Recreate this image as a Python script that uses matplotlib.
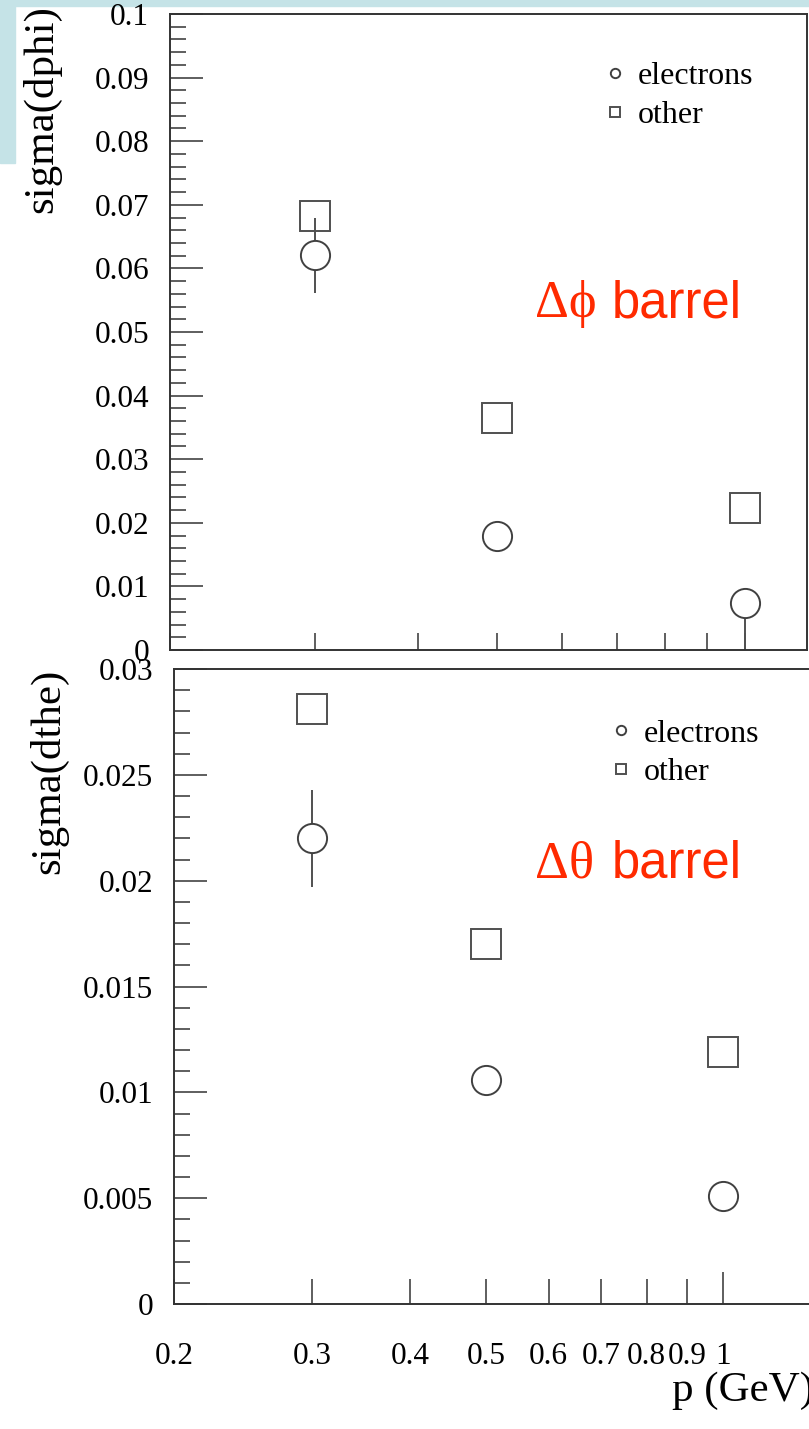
"""
Angular resolution of barrel tracks vs momentum: sigma(dphi) and sigma(dthe)
for electrons and other particles, two stacked ROOT-style panels.
"""

import matplotlib
matplotlib.use("Agg")
import matplotlib.pyplot as plt
from matplotlib.patches import Rectangle
from matplotlib.ticker import FixedLocator, FixedFormatter, MultipleLocator, FuncFormatter, NullFormatter

plt.rcParams["font.family"] = ["Liberation Serif", "DejaVu Serif"]

# ── data ───────────────────────────────────────────────────────
P_GEV = [0.3, 0.5, 1.0]

ELEC_DPHI        = [0.0621, 0.0179, 0.0074]
ELEC_DPHI_ERR_LO = [0.0059, 0.0, 0.0080]
ELEC_DPHI_ERR_HI = [0.0059, 0.0, 0.0020]
OTHER_DPHI       = [0.0682, 0.0365, 0.0223]

ELEC_DTHE        = [0.0220, 0.0106, 0.0051]
ELEC_DTHE_ERR_LO = [0.0023, 0.0, 0.0]
ELEC_DTHE_ERR_HI = [0.0023, 0.0, 0.0]
OTHER_DTHE       = [0.0281, 0.0170, 0.0119]

XTICK_MINOR = [0.2, 0.3, 0.4, 0.5, 0.6, 0.7, 0.8, 0.9]
XTICK_MAJOR = [1.0]
XLABELS_MINOR = ["0.2", "0.3", "0.4", "0.5", "0.6", "0.7", "0.8", "0.9"]
XLABELS_MAJOR = ["1"]

# ── style ──────────────────────────────────────────────────────
W, H = 809, 1429
INK = "#333333"
RED = "#ff2a00"
SLIDE_BLUE = "#c5e3e7"


def px_box(left, top, right, bottom):
    """pixel box (origin top-left) -> figure-fraction rect"""
    return [left / W, 1 - bottom / H, (right - left) / W, (bottom - top) / H]


def style_axes(ax, ymax, ymajor, yminor, ytick_len, xtick_len):
    ax.set_xscale("log")
    ax.set_ylim(0, ymax)
    ax.yaxis.set_major_locator(MultipleLocator(ymajor))
    ax.yaxis.set_minor_locator(MultipleLocator(yminor))
    ax.yaxis.set_major_formatter(FuncFormatter(lambda v, _: f"{v:g}"))
    ax.xaxis.set_major_locator(FixedLocator(XTICK_MAJOR))
    ax.xaxis.set_minor_locator(FixedLocator(XTICK_MINOR))
    ax.tick_params(axis="both", which="both", direction="in", color=INK,
                   width=1.1, top=False, right=False, labelsize=22.5)
    ax.tick_params(axis="y", which="major", length=ytick_len[0], pad=15)
    ax.tick_params(axis="y", which="minor", length=ytick_len[1])
    ax.tick_params(axis="x", which="major", length=xtick_len[0], pad=27)
    ax.tick_params(axis="x", which="minor", length=xtick_len[1], pad=27)
    for sp in ax.spines.values():
        sp.set_color(INK)
        sp.set_linewidth(1.4)


def draw_series(ax, elec, err_lo, err_hi, other):
    ax.errorbar(P_GEV, elec, yerr=[err_lo, err_hi], fmt="none",
                ecolor="#505050", elinewidth=1.4, capsize=0, zorder=2)
    ax.plot(P_GEV, other, ls="none", marker="s", ms=21, mfc="none",
            mec="#505050", mew=1.4, label="other", zorder=3)
    ax.plot(P_GEV, elec, ls="none", marker="o", ms=21, mfc="white",
            mec="#404040", mew=1.4, label="electrons", zorder=4)
    h, l = ax.get_legend_handles_labels()
    return h[::-1], l[::-1]


fig = plt.figure(figsize=(W / 100, H / 100), dpi=100, facecolor="white")

# slide background peeking out around the pasted plot
fig.patches.append(Rectangle((0, 1 - 6 / H), 1, 6 / H, transform=fig.transFigure,
                             color=SLIDE_BLUE, zorder=-10))
fig.patches.append(Rectangle((0, 1 - 163 / H), 15 / W, 163 / H, transform=fig.transFigure,
                             color=SLIDE_BLUE, zorder=-10))

# ── top panel: dphi ────────────────────────────────────────────
ax1 = fig.add_axes(px_box(170, 14, 807, 650))
style_axes(ax1, 0.1, 0.01, 0.002, (24, 11.5), (12, 12))
ax1.set_xlim(0.2, 1.19)
ax1.xaxis.set_major_formatter(NullFormatter())
ax1.xaxis.set_minor_formatter(NullFormatter())
h, l = draw_series(ax1, ELEC_DPHI, ELEC_DPHI_ERR_LO, ELEC_DPHI_ERR_HI, OTHER_DPHI)
ax1.legend(h, l, loc="upper left", bbox_to_anchor=(0.684, 0.925), frameon=False,
           markerscale=0.32, fontsize=23, handlelength=0.6, handletextpad=0.4,
           labelspacing=0.3, borderpad=0, borderaxespad=0)
ax1.set_ylabel("sigma(dphi)", fontsize=31, loc="top")
ax1.yaxis.set_label_coords(-0.170, 1.014)

# ── bottom panel: dthe ─────────────────────────────────────────
ax2 = fig.add_axes(px_box(174, 669, 820, 1304))
style_axes(ax2, 0.03, 0.005, 0.001, (24, 11.5), (23, 18))
ax2.set_xlim(0.2, 1.33)
ax2.xaxis.set_major_formatter(FixedFormatter(XLABELS_MAJOR))
ax2.xaxis.set_minor_formatter(FixedFormatter(XLABELS_MINOR))
ax2.spines["right"].set_visible(False)
h, l = draw_series(ax2, ELEC_DTHE, ELEC_DTHE_ERR_LO, ELEC_DTHE_ERR_HI, OTHER_DTHE)
ax2.legend(h, l, loc="upper left", bbox_to_anchor=(0.677, 0.921), frameon=False,
           markerscale=0.32, fontsize=23, handlelength=0.6, handletextpad=0.4,
           labelspacing=0.3, borderpad=0, borderaxespad=0)
ax2.set_ylabel("sigma(dthe)", fontsize=31, loc="top")
ax2.yaxis.set_label_coords(-0.164, 1.0)
ax2.set_xlabel("p (GeV)", fontsize=31, loc="right")
ax2.xaxis.set_label_coords(0.991, -0.106)

# ── red annotations ────────────────────────────────────────────
for label, base in (("Δϕ", 317), ("Δθ", 877)):
    fig.text(535 / W, 1 - base / H, label, color=RED, fontsize=38, va="baseline",
             family=["Liberation Serif", "DejaVu Serif"])
    fig.text(612 / W, 1 - base / H, "barrel", color=RED, fontsize=36.5, va="baseline",
             family=["Liberation Sans", "DejaVu Sans"])

fig.savefig("out.png", dpi=100, facecolor="white")
